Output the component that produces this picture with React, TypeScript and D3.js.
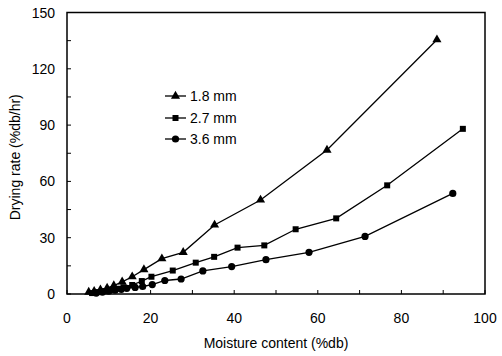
import React from "react";
import * as d3 from "d3";

const xTicks = [0, 20, 40, 60, 80, 100];
const yTicks = [0, 30, 60, 90, 120, 150];
const seriesNames = ["1.8 mm", "2.7 mm", "3.6 mm"];
const seriesMarkers = ["triangle", "square", "circle"];

const s18: [number, number][] = [
  [5.2, 1.0], [6.5, 1.5], [8, 2.2], [9.6, 3.2], [11.2, 4.5], [13.2, 6.5], [15.6, 9.2],
  [18.4, 13], [22.7, 18.8], [27.8, 22.2], [35.3, 36.8], [46.3, 50.1], [62.2, 76.7], [88.5, 135.5],
];
const s27: [number, number][] = [
  [6, 0.5], [7.5, 1], [9, 1.5], [10.5, 2.2], [12, 2.8], [13.5, 3.6], [15.6, 4.8], [17.9, 6.9],
  [20.2, 9.2], [25.3, 12.5], [30.8, 16.7], [35.2, 19.8], [40.8, 24.7], [47.2, 25.9],
  [54.7, 34.5], [64.4, 40.3], [76.6, 57.9], [94.7, 88],
];
const s36: [number, number][] = [
  [7, 0.5], [8.5, 1], [10, 1.5], [11.5, 2], [13, 2.5], [14.3, 3], [16.3, 3.5], [18.1, 4],
  [20.4, 5], [23.4, 7.2], [27.3, 8], [32.5, 12.3], [39.4, 14.6], [47.6, 18.3], [57.9, 22.2],
  [71.3, 30.7], [92.3, 53.6],
];
const allSeries = [s18, s27, s36];

const W = 502, H = 356;
const L = 67, R = 485, T = 12.5, B = 294;
const FONT = "'Liberation Sans', Arial, Helvetica, sans-serif";

function Marker({ type, x, y }: { type: string; x: number; y: number }) {
  if (type === "triangle") {
    const sym = d3.symbol(d3.symbolTriangle, 36)();
    return <path d={sym || ""} transform={`translate(${x},${y})`} fill="#000" />;
  }
  if (type === "square") {
    return <rect x={x - 3} y={y - 3} width={6} height={6} fill="#000" />;
  }
  return <circle cx={x} cy={y} r={3.6} fill="#000" />;
}

export default function App() {
  const x = d3.scaleLinear().domain([0, 100]).range([L, R]);
  const y = d3.scaleLinear().domain([0, 150]).range([B, T]);
  const line = d3.line<[number, number]>().x((d) => x(d[0])).y((d) => y(d[1]));
  const xMinor = d3.range(0, 101, 10);
  const yMinor = d3.range(0, 151, 15);
  const legendY = [96, 118, 139];

  return (
    <svg width={W} height={H} style={{ position: "absolute", left: 0, top: 0, background: "#fff" }}>
      <rect x={0} y={0} width={W} height={H} fill="#fff" />
      {/* ticks */}
      {xMinor.map((v) => (
        <line key={"xt" + v} x1={x(v)} x2={x(v)} y1={B} y2={B - 4} stroke="#000" strokeWidth={1} />
      ))}
      {yMinor.map((v) => (
        <line key={"yt" + v} x1={L} x2={L + 4} y1={y(v)} y2={y(v)} stroke="#000" strokeWidth={1} />
      ))}
      <rect x={L} y={T} width={R - L} height={B - T} fill="none" stroke="#000" strokeWidth={1.5} />
      {xTicks.map((v) => (
        <text key={"xl" + v} x={x(v)} y={323} textAnchor="middle" fontFamily={FONT} fontSize={14} fill="#000">
          {v}
        </text>
      ))}
      {yTicks.map((v) => (
        <text key={"yl" + v} x={55} y={y(v) + 5} textAnchor="end" fontFamily={FONT} fontSize={14} fill="#000">
          {v}
        </text>
      ))}
      <text x={(L + R) / 2} y={348} textAnchor="middle" fontFamily={FONT} fontSize={14} fill="#000">
        Moisture content (%db)
      </text>
      <text
        transform={`translate(20,${(T + B) / 2 + 4}) rotate(-90)`}
        textAnchor="middle"
        fontFamily={FONT}
        fontSize={14}
        fill="#000"
      >
        Drying rate (%db/hr)
      </text>
      {allSeries.map((s, i) => (
        <g key={"s" + i}>
          <path d={line(s) || ""} fill="none" stroke="#000" strokeWidth={1.3} />
          {s.map((d, j) => (
            <Marker key={j} type={seriesMarkers[i]} x={x(d[0])} y={y(d[1])} />
          ))}
        </g>
      ))}
      {seriesNames.map((n, i) => (
        <g key={"lg" + i}>
          <line x1={165} x2={186} y1={legendY[i]} y2={legendY[i]} stroke="#000" strokeWidth={1.3} />
          <Marker type={seriesMarkers[i]} x={175.5} y={legendY[i]} />
          <text x={190} y={legendY[i] + 5} fontFamily={FONT} fontSize={14} fill="#000">
            {n}
          </text>
        </g>
      ))}
    </svg>
  );
}
